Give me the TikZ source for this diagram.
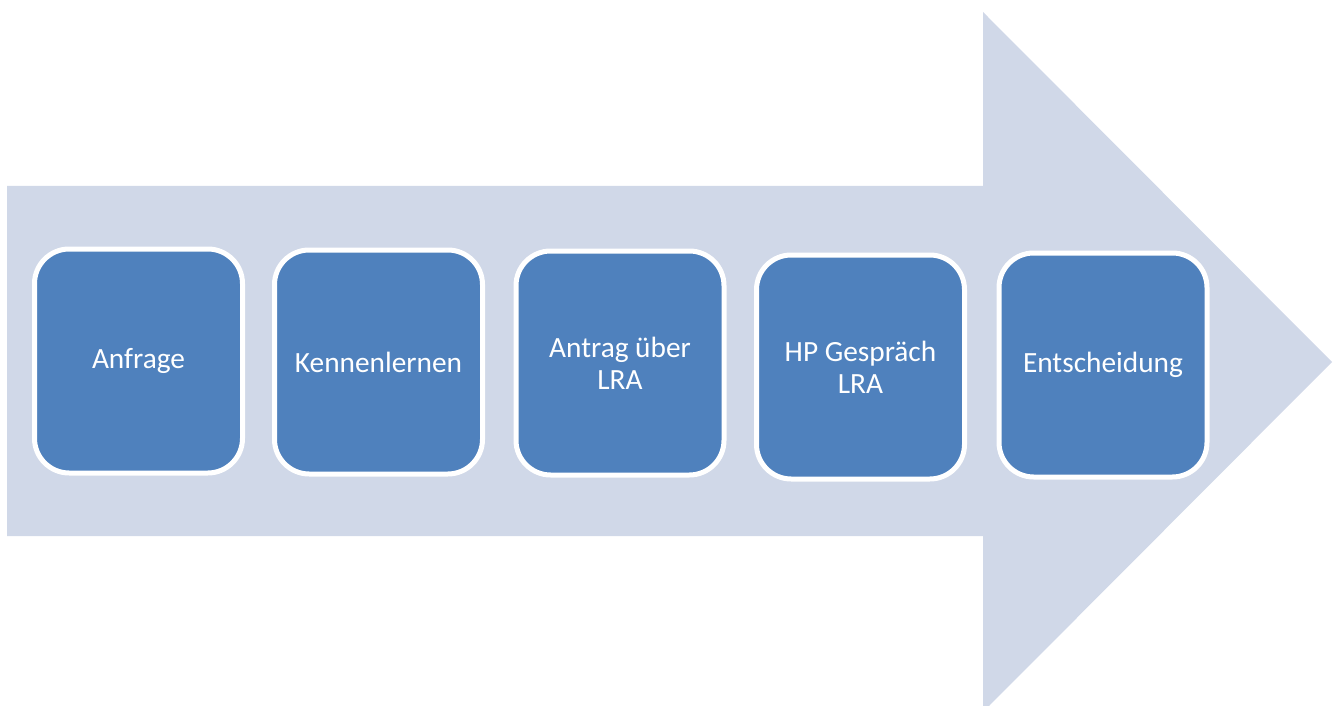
\documentclass[tikz,border=0pt]{standalone}
\usepackage{fontspec}
\setmainfont{Carlito}
\definecolor{arrowbg}{HTML}{D0D8E8}
\definecolor{stepblue}{HTML}{4F81BD}
\tikzset{
    stepbox/.style={draw=white, line width=3.75pt, fill=stepblue, rounded corners=26pt,
        minimum width=156pt, minimum height=168pt, text=white, align=center,
        font=\fontsize{22}{24}\selectfont}
}
\begin{document}
\begin{tikzpicture}[x=0.75pt, y=-0.75pt]
    \clip (0,0) rectangle (1342,706);
    % Draw big arrow
    \fill [arrowbg] (7,186) -- (983,186) -- (983,12) -- (1332,362)
        -- (983,712) -- (983,536) -- (7,536) -- cycle;
    % Steps
    \node [stepbox] (anfrage) at (138.5,361) {Anfrage};
    \node [stepbox] (kennen) at (378.5,362) {Kennenlernen};
    \node [stepbox] (antrag) at (620,363) {Antrag über\\LRA};
    \node [stepbox] (hpgespraech) at (860.5,367) {HP Gespräch\\LRA};
    \node [stepbox] (entscheidung) at (1103,365) {Entscheidung};
\end{tikzpicture}
\end{document}
